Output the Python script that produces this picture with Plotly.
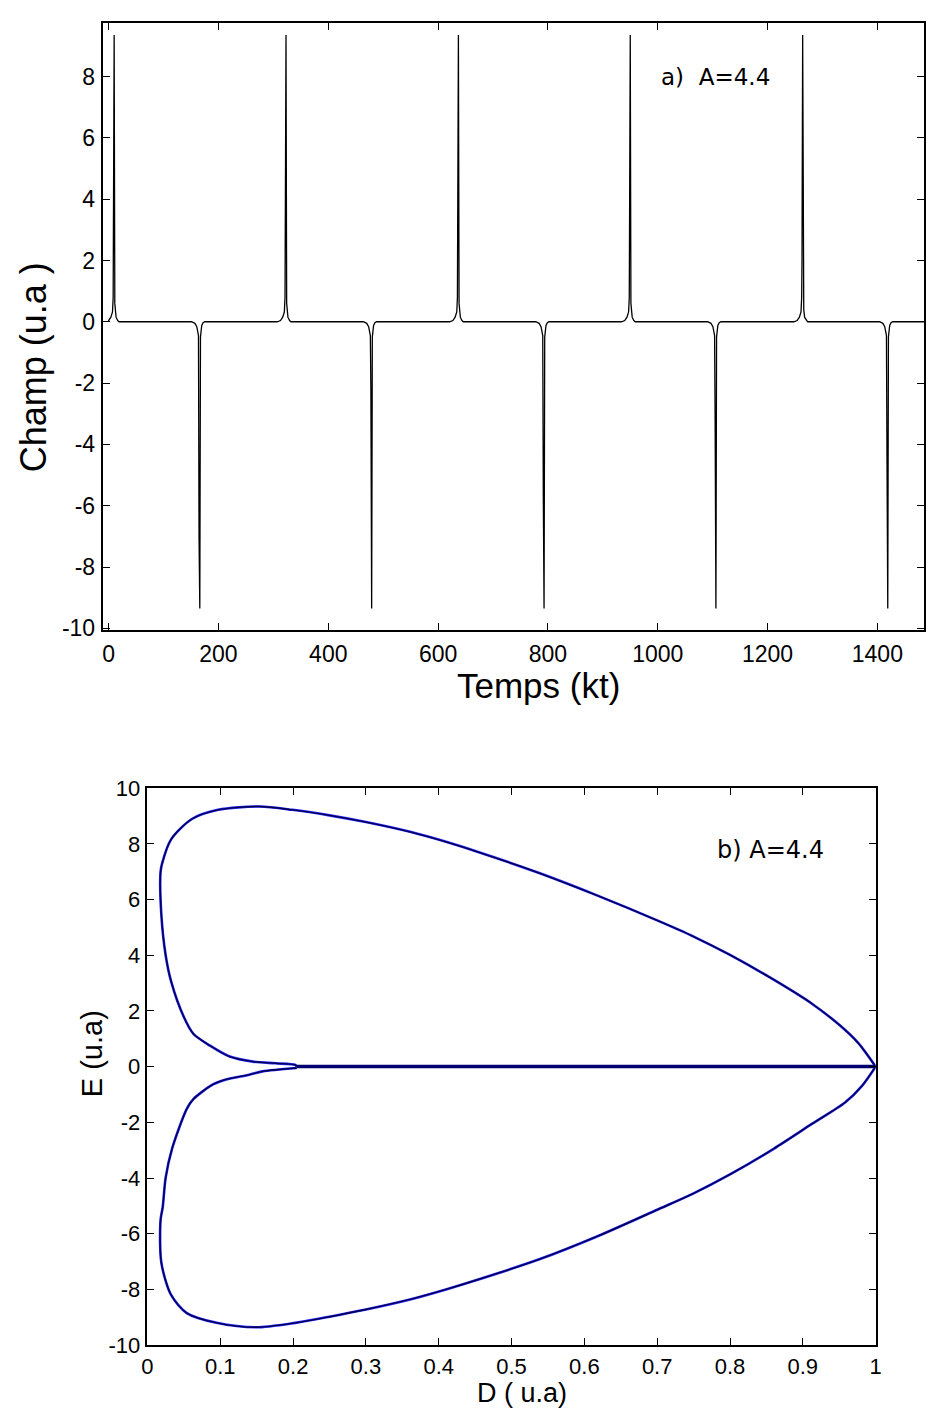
import plotly.graph_objects as go

# ---------------- data: panel a) field vs time ----------------
pos_centres = [10, 323, 637, 950, 1264]          # positive pulse times (kt)
pos_steps = [3.4, 7.3, 2.7, 9.2, 2.0]            # intermediate level on rising edge
neg_centres = [166, 479, 793, 1106, 1419]        # negative pulse times (kt)
neg_steps = [-7.0, -2.2, -5.6, -3.3, -4.5]
peak_pos = 9.35
peak_neg = -9.35
t_end = 1490

# pulse shape (offset in kt, value); None = step / peak
pos_off = [-16, -10, -6, -3, -1.8, -1.2, 0, 1.2, 2.0, 3.5, 6.5, 9]
pos_shape = [0.0, 0.04, 0.15, 0.32, 0.8, None, None, 0.6, 0.4, 0.15, 0.04, 0.0]
neg_off = [-15, -9, -5.5, -3.5, -2.4, -1.4, 0, 1.2, 2.2, 3.5, 6, 9]
neg_shape = [0.0, -0.05, -0.16, -0.3, -0.45, None, None, -0.5, -0.22, -0.12, -0.03, 0.0]

# ---------------- data: panel b) E vs D loop ----------------
D_up = [0.205, 0.203, 0.176, 0.145, 0.113, 0.086, 0.063, 0.050, 0.0325, 0.025, 0.019, 0.018,
        0.020, 0.0325, 0.061, 0.097, 0.154, 0.199, 0.25, 0.30, 0.362, 0.41, 0.45, 0.538,
        0.619, 0.70, 0.75, 0.80, 0.86, 0.913, 0.95, 0.976, 1.0]
E_up = [0.0, 0.06, 0.12, 0.18, 0.36, 0.75, 1.18, 1.78, 3.06, 4.0, 5.49, 6.99,
        7.28, 8.16, 8.89, 9.22, 9.34, 9.22, 9.02, 8.78, 8.42, 8.07, 7.74, 6.95,
        6.13, 5.25, 4.67, 4.01, 3.12, 2.25, 1.50, 0.85, 0.0]
D_lo = [0.205, 0.158, 0.14, 0.108, 0.090, 0.063, 0.054, 0.034, 0.025, 0.021, 0.018, 0.019,
        0.0325, 0.054, 0.095, 0.149, 0.203, 0.25, 0.30, 0.362, 0.41, 0.45, 0.538, 0.619,
        0.70, 0.75, 0.80, 0.86, 0.913, 0.958, 0.981, 1.0]
E_lo = [-0.05, -0.17, -0.29, -0.46, -0.64, -1.17, -1.52, -2.93, -3.99, -5.04, -5.51, -7.03,
        -8.2, -8.85, -9.2, -9.36, -9.2, -8.98, -8.72, -8.35, -8.0, -7.68, -6.92, -6.08,
        -5.14, -4.55, -3.87, -2.95, -2.05, -1.29, -0.7, 0.0]
D_flat = [0.205, 1.0]
E_flat = [0.0, 0.0]

x_ticks_a = [0, 200, 400, 600, 800, 1000, 1200, 1400]
y_ticks_a = [-10, -8, -6, -4, -2, 0, 2, 4, 6, 8]
x_ticks_b = [0, 0.1, 0.2, 0.3, 0.4, 0.5, 0.6, 0.7, 0.8, 0.9, 1]
y_ticks_b = [-10, -8, -6, -4, -2, 0, 2, 4, 6, 8, 10]


def lab(v):
    return ("%g" % v).replace("\u2212", "-")


# ---------------- build panel a series ----------------
events = []
for c, s in zip(pos_centres, pos_steps):
    vals = [s if v is None else v for v in pos_shape]
    vals[6] = peak_pos
    events.append((c, pos_off, vals))
for c, s in zip(neg_centres, neg_steps):
    vals = [s if v is None else v for v in neg_shape]
    vals[6] = peak_neg
    events.append((c, neg_off, vals))
events.sort(key=lambda e: e[0])

t_series, f_series = [0.0], [0.0]
for c, offs, vals in events:
    for o, v in zip(offs, vals):
        t = c + o
        if t < 0:
            continue
        t_series.append(t)
        f_series.append(v)
t_series.append(t_end)
f_series.append(0.0)

W, H = 930, 1421


def px(x):
    return x / W


def py(y):
    return 1 - y / H


fig = go.Figure()
fig.add_trace(go.Scatter(x=t_series, y=f_series, mode="lines",
                         line=dict(color="black", width=1.3),
                         xaxis="x", yaxis="y", showlegend=False))

for D, E in [(D_up, E_up), (D_lo, E_lo)]:
    fig.add_trace(go.Scatter(x=D, y=E, mode="lines",
                             line=dict(color="#2424ff", width=2.6, shape="spline", smoothing=0.8),
                             xaxis="x2", yaxis="y2", showlegend=False))
    fig.add_trace(go.Scatter(x=D, y=E, mode="lines",
                             line=dict(color="#00004a", width=1.4, shape="spline", smoothing=0.8),
                             xaxis="x2", yaxis="y2", showlegend=False))
fig.add_trace(go.Scatter(x=D_flat, y=E_flat, mode="lines",
                         line=dict(color="#000070", width=3.5),
                         xaxis="x2", yaxis="y2", showlegend=False))

tick_font_a = dict(family="Liberation Sans, Arial", size=23, color="black")
tick_font_b = dict(family="Liberation Sans, Arial", size=22, color="black")

common = dict(showgrid=False, zeroline=False, ticks="inside", ticklen=7,
              tickcolor="black", tickwidth=1, mirror="ticks", showline=True,
              linecolor="black")

fig.update_layout(
    width=W, height=H, margin=dict(l=0, r=0, t=0, b=0),
    paper_bgcolor="white", plot_bgcolor="white",
    xaxis=dict(domain=[px(98), 1.0], range=[-10.8, 1485], tickvals=x_ticks_a,
               ticktext=[lab(v) for v in x_ticks_a], ticklabelstandoff=2,
               anchor="y", linewidth=2, tickfont=tick_font_a, **common),
    yaxis=dict(domain=[py(629), py(11)], range=[-10.05, 9.75], tickvals=y_ticks_a,
               ticktext=[lab(v) for v in y_ticks_a], ticklabelstandoff=1,
               anchor="x", linewidth=2, tickfont=tick_font_a, **common),
    xaxis2=dict(domain=[px(143.3), px(881)], range=[0, 1], tickvals=x_ticks_b,
                ticktext=[lab(v) for v in x_ticks_b], ticklabelstandoff=1,
                anchor="y2", linewidth=1.5, tickfont=tick_font_b, **common),
    yaxis2=dict(domain=[py(1357), py(790)], range=[-10, 10], tickvals=y_ticks_b,
                ticktext=[lab(v) for v in y_ticks_b], ticklabelstandoff=1,
                anchor="x2", linewidth=1.5, tickfont=tick_font_b, **common),
)

ann = [
    dict(text="Champ (u.a )", x=px(28), y=py(362), textangle=-90,
         font=dict(family="Liberation Sans, Arial", size=36, color="black")),
    dict(text="Temps (kt)", x=px(539), y=py(686),
         font=dict(family="Liberation Sans, Arial", size=35, color="black")),
    dict(text="a)  A=4.4", x=px(719), y=py(66),
         font=dict(family="DejaVu Sans", size=23, color="black")),
    dict(text="E (u.a)", x=px(87), y=py(1060), textangle=-90,
         font=dict(family="Liberation Sans, Arial", size=29, color="black")),
    dict(text="D ( u.a)", x=px(523), y=py(1406),
         font=dict(family="Liberation Sans, Arial", size=27, color="black")),
    dict(text="b) A=4.4", x=px(774), y=py(853),
         font=dict(family="DejaVu Sans", size=24, color="black")),
]
for a in ann:
    a.update(xref="paper", yref="paper", showarrow=False, xanchor="center", yanchor="middle")
fig.update_layout(annotations=ann)

fig.write_html("out.html")
